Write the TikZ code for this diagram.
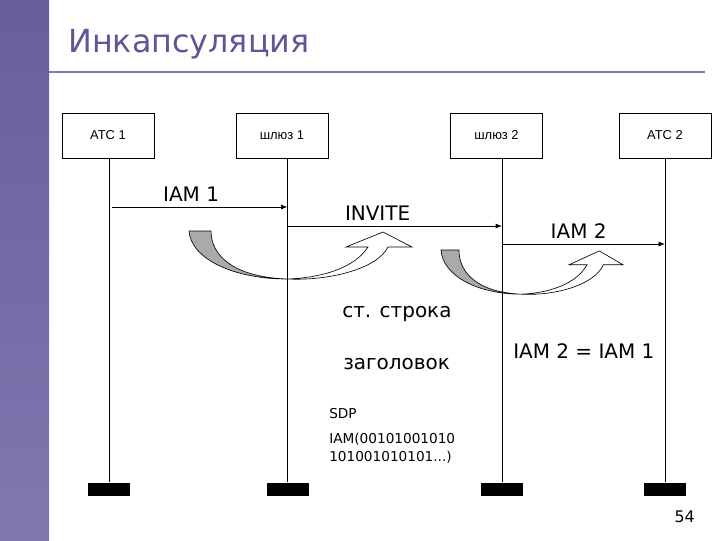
\documentclass[tikz,border=0pt]{standalone}
\usepackage{fontspec}
\setmainfont{DejaVu Sans}
\newfontfamily\boxfont{Liberation Sans}
\usepackage{tikz}
\usetikzlibrary{positioning, arrows.meta}
\definecolor{slidetop}{RGB}{103,95,155}
\definecolor{slidebottom}{RGB}{129,119,177}
\definecolor{slidetitle}{RGB}{94,86,150}
\definecolor{sliderule}{RGB}{130,122,172}
\definecolor{backgray}{RGB}{170,170,170}

\begin{document}
\begin{tikzpicture}[
        x=0.025cm, y=-0.025cm,
        box/.style={rectangle, draw, line width=0.6pt, minimum width=2.3cm, minimum height=1.125cm, font=\boxfont\fontsize{9.2}{11}\selectfont},
        bar/.style={rectangle, fill=black, minimum width=1.05cm, minimum height=0.325cm, inner sep=0pt},
        life/.style={line width=0.6pt},
        msg/.style={-{Latex[length=4.5pt, width=3.5pt]}, line width=0.6pt},
        lbl/.style={font=\fontsize{14.2}{17}\selectfont},
        note/.style={font=\fontsize{9.7}{12}\selectfont, anchor=base west, inner sep=0pt},
        curvedup/.pic={
            \filldraw[fill=backgray, line width=0.45pt] (0,0) -- (22,0) .. controls (22,25) and (45,46) .. (98,48)
                .. controls (45,48) and (2,28) .. (0,0) -- cycle;
            \filldraw[fill=white, line width=0.45pt] (98,48) .. controls (140,50) and (188,38) .. (199,16)
                -- (223,16) -- (194,1) -- (157,16) -- (179,16) .. controls (165,38) and (130,47) .. (98,48) -- cycle;
        },
    ]
        \useasboundingbox (0,0) rectangle (720,540);
        % Slide frame
        \shade[top color=slidetop, bottom color=slidebottom] (0,0) rectangle (49,540);
        \node[anchor=base west, inner sep=0pt, text=slidetitle, font=\fontsize{22.6}{27}\selectfont] (ttl) at (68,52) {Инкапсуляция};
        \draw[sliderule, line width=1.4pt] (49,72) -- (705,72);

        % Actors
        \node[box] (atc1) at (108,135.5) {АТС 1};
        \node[box] (gw1) at (282,135.5) {шлюз 1};
        \node[box] (gw2) at (496.5,135.5) {шлюз 2};
        \node[box] (atc2) at (665,135.5) {АТС 2};

        \node[bar] (atc1bar) at (109,489) {};
        \node[bar] (gw1bar) at (287.5,489) {};
        \node[bar] (gw2bar) at (502,489) {};
        \node[bar] (atc2bar) at (665,489) {};

        % Lifelines
        \draw[life] (atc1bar.north |- atc1.south) -- (atc1bar.north);
        \draw[life] (gw1bar.north |- gw1.south) -- (gw1bar.north);
        \draw[life] (gw2bar.north |- gw2.south) -- (gw2bar.north);
        \draw[life] (atc2bar.north |- atc2.south) -- (atc2bar.north);

        % Messages
        \draw[msg, shorten <=2pt] (atc1bar |- 0,207) -- node[lbl, pos=0.46, above] {IAM 1} (gw1bar |- 0,207);
        \draw[msg] (gw1bar |- 0,226) -- node[lbl, pos=0.42, above] {INVITE} (gw2bar |- 0,226);
        \draw[msg] (gw2bar |- 0,244) -- node[lbl, pos=0.47, above] {IAM 2} (atc2bar |- 0,244);

        % Mapping arrows
        \pic at (189,231) {curvedup};
        \pic[xscale=0.816, yscale=0.92] at (441,250) {curvedup};

        % Notes
        \node[lbl, anchor=base west, inner sep=0pt] (sl) at (342,317) {ст. строка};
        \node[lbl, anchor=base west, inner sep=0pt] (hdr) at (343,369) {заголовок};
        \node[lbl, anchor=base west, inner sep=0pt] (eq) at (513,358) {IAM 2 = IAM 1};
        \node[note] (sdp) at (329,418) {SDP};
        \node[note] (bits1) at (329,443) {IAM(00101001010};
        \node[note] (bits2) at (329,461) {101001010101...)};
        \node[anchor=base east, inner sep=0pt, font=\fontsize{11.3}{13}\selectfont] (pg) at (695,522) {54};
    \end{tikzpicture}
\end{document}
